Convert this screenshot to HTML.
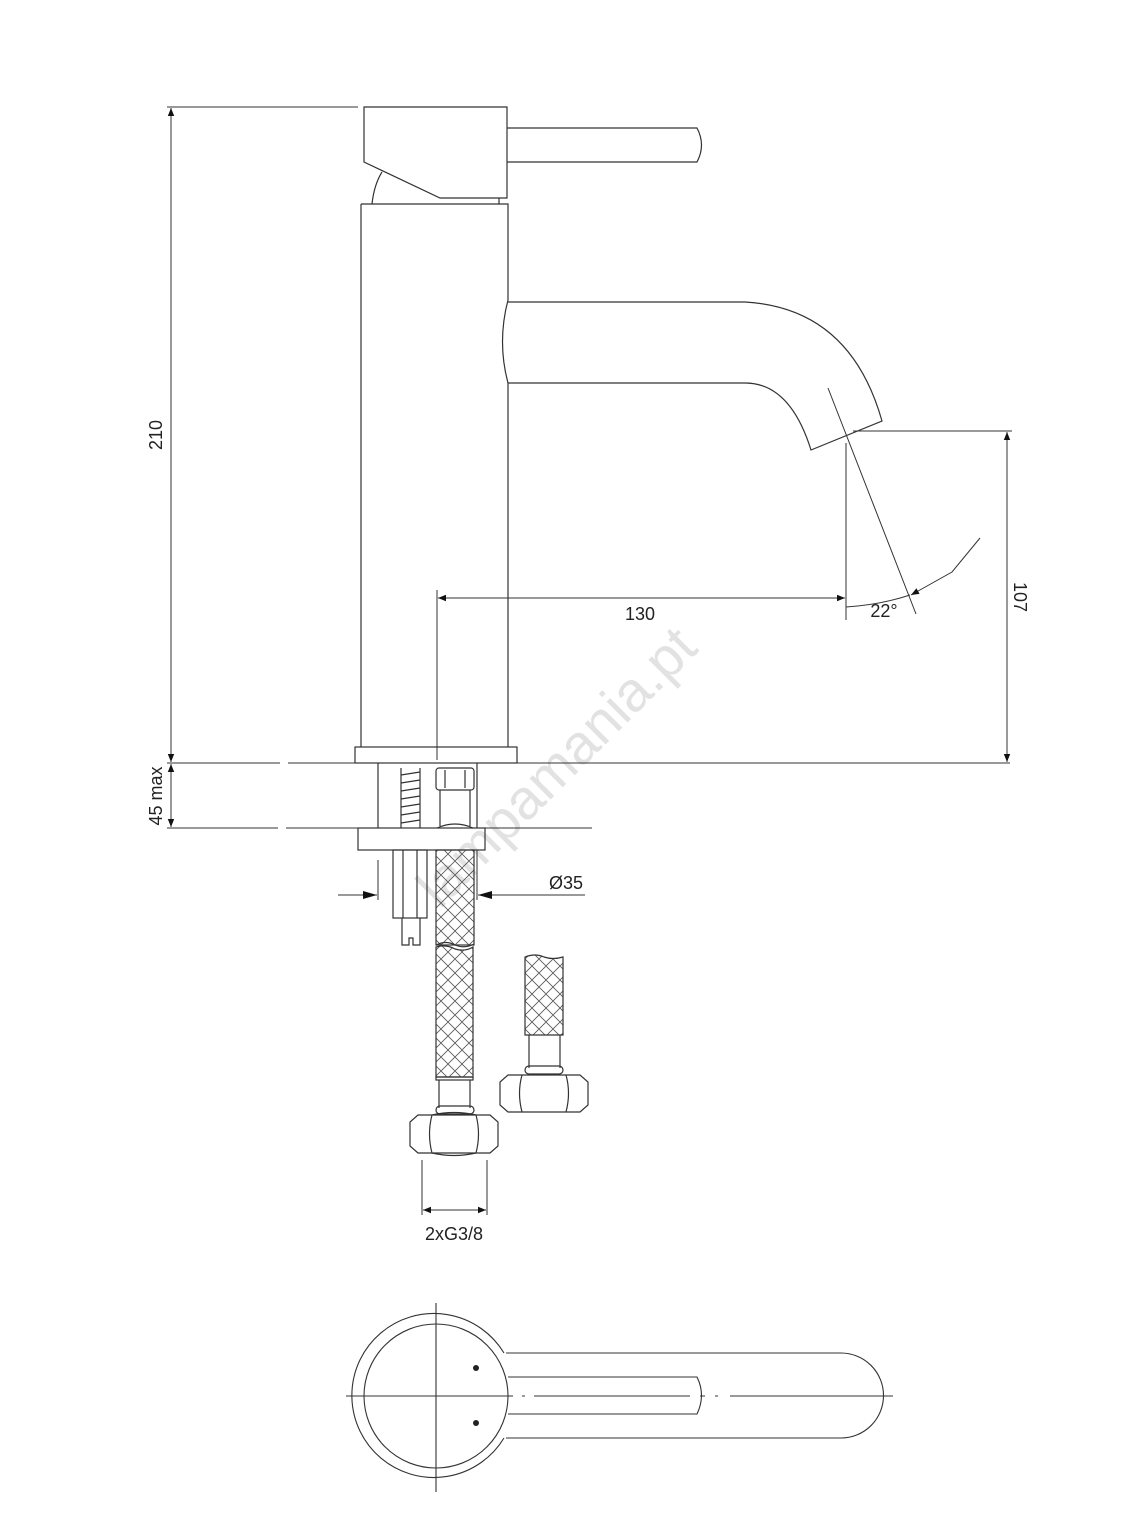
<!DOCTYPE html>
<html><head><meta charset="utf-8"><style>
html,body{margin:0;padding:0;background:#fff}
svg{display:block}
text{font-family:"Liberation Sans",sans-serif;fill:#222}
</style></head><body>
<svg width="1147" height="1527" viewBox="0 0 1147 1527" xmlns="http://www.w3.org/2000/svg">
<defs>
<marker id="a" viewBox="0 0 10 10" refX="10" refY="5" markerWidth="14" markerHeight="8" markerUnits="userSpaceOnUse" orient="auto-start-reverse"><path d="M0,1 L10,5 L0,9 z" fill="#111"/></marker>
<pattern id="x" width="14" height="14" patternUnits="userSpaceOnUse"><path d="M0,0 L14,14 M14,0 L0,14" stroke="#555" stroke-width="0.8"/></pattern>
</defs>
<text x="0" y="0" transform="translate(440,910) rotate(-45)" font-size="56" style="fill:#e2e2e2">lampamania.pt</text>
<g fill="none" stroke="#333" stroke-width="1.2">
<path d="M364,107 L507,107 L507,198 L440,198 L364,162 Z"/>
<path d="M507,128 L697,128 Q706,145 697,162 L507,162"/>
<path d="M372,204 Q374,185 382,172"/>
<line x1="499" y1="198" x2="499" y2="204"/>
<path d="M361,204 L508,204 L508,300 Q497,342 508,383 L508,747 M361,204 L361,747"/>
<path d="M508,302 L745,302 Q850,308 882,421 L811,450 Q790,383 745,383 L508,383"/>
<rect x="355" y="747" width="162" height="16"/>
<line x1="378" y1="763" x2="378" y2="828"/><line x1="477" y1="763" x2="477" y2="828"/>
<path d="M401,768 L401,828 M420,768 L420,828"/>
<path d="M401,775 L420,772 M401,783 L420,780 M401,791 L420,788 M401,799 L420,796 M401,807 L420,804 M401,815 L420,812 M401,823 L420,820"/>
<rect x="436" y="768" width="38" height="22" rx="3"/>
<line x1="445" y1="770" x2="445" y2="788"/><line x1="465" y1="770" x2="465" y2="788"/>
<path d="M440,790 L440,826 M470,790 L470,826 M437,828 Q455,820 473,828"/>
<rect x="358" y="828" width="127" height="22"/>
<rect x="393" y="850" width="34" height="68"/>
<line x1="403" y1="850" x2="403" y2="918"/><line x1="417" y1="850" x2="417" y2="918"/>
<path d="M402,918 L402,945 L409,945 L409,938 L413,938 L413,945 L420,945 L420,918"/>
<rect x="436" y="850" width="38" height="95" fill="url(#x)"/>
<path d="M436,945 Q446,940 455,945 Q465,949 474,944"/>
<path d="M436,947 Q446,944 455,949 Q465,952 473,947 L473,1077 L436,1077 Z" fill="url(#x)"/>
<rect x="436" y="1077" width="37" height="3"/>
<path d="M439,1080 L439,1108 M470,1080 L470,1108"/>
<rect x="436" y="1106" width="38" height="8" rx="4"/>
<path d="M418,1115 L490,1115 L498,1122 L498,1146 L490,1153 L418,1153 L410,1146 L410,1122 Z"/>
<path d="M432,1115 Q427,1134 432,1153 M476,1115 Q481,1134 476,1153 M432,1115 Q454,1110 476,1115 M432,1153 Q454,1158 476,1153"/>
<path d="M525,957 Q535,953 544,957 Q553,960 563,957 L563,1035 L525,1035 Z" fill="url(#x)"/>
<path d="M529,1035 L529,1068 M560,1035 L560,1068"/>
<rect x="525" y="1066" width="38" height="8" rx="4"/>
<path d="M508,1075 L580,1075 L588,1082 L588,1105 L580,1112 L508,1112 L500,1105 L500,1082 Z"/>
<path d="M522,1075 Q517,1093 522,1112 M566,1075 Q571,1093 566,1112"/>
</g>
<g fill="none" stroke="#333" stroke-width="1">
<line x1="167" y1="107" x2="358" y2="107"/>
<line x1="171" y1="108" x2="171" y2="762" marker-start="url(#a)" marker-end="url(#a)"/>
<line x1="167" y1="763" x2="280" y2="763"/><line x1="288" y1="763" x2="1010" y2="763"/>
<line x1="167" y1="828" x2="278" y2="828"/><line x1="286" y1="828" x2="592" y2="828"/>
<line x1="171" y1="764" x2="171" y2="827" marker-start="url(#a)" marker-end="url(#a)"/>
<line x1="437" y1="590" x2="437" y2="760"/>
<line x1="438" y1="598" x2="845" y2="598" marker-start="url(#a)" marker-end="url(#a)"/>
<line x1="846" y1="443" x2="846" y2="620"/>
<line x1="828" y1="388" x2="916" y2="614"/>
<line x1="853" y1="431" x2="1012" y2="431"/>
<line x1="1007" y1="432" x2="1007" y2="762" marker-start="url(#a)" marker-end="url(#a)"/>
<path d="M846,607 Q880,605 910,595" />
<path d="M980,538 L952,572 L911,595" marker-end="url(#a)"/>
<line x1="338" y1="895" x2="377" y2="895"/>
<line x1="378" y1="860" x2="378" y2="900"/>
<line x1="585" y1="895" x2="478" y2="895"/>
<line x1="477" y1="850" x2="477" y2="900"/>
<line x1="422" y1="1160" x2="422" y2="1215"/><line x1="487" y1="1160" x2="487" y2="1215"/>
<line x1="423" y1="1210" x2="486" y2="1210" marker-start="url(#a)" marker-end="url(#a)"/>
</g>
<path d="M377,895 L363,891 L363,899 Z M478,895 L492,891 L492,899 Z" fill="#111"/>
<text x="640" y="620" font-size="18" text-anchor="middle">130</text>
<text x="884" y="617" font-size="18" text-anchor="middle">22°</text>
<text x="0" y="0" font-size="18" text-anchor="middle" transform="translate(1014,597) rotate(90)">107</text>
<text x="0" y="0" font-size="18" text-anchor="middle" transform="translate(162,435) rotate(-90)">210</text>
<text x="0" y="0" font-size="18" text-anchor="middle" transform="translate(162,796) rotate(-90)">45 max</text>
<text x="566" y="889" font-size="18" text-anchor="middle">Ø35</text>
<text x="454" y="1240" font-size="18" text-anchor="middle">2xG3/8</text>
<g fill="none" stroke="#333" stroke-width="1.1">
<path d="M504,1353 A82,82 0 1 0 504,1438"/>
<circle cx="436" cy="1396" r="72"/>
<path d="M506,1353 L841,1353 A42,42 0 0 1 841,1438 L506,1438"/>
<path d="M508,1377 L697,1377 Q706,1395 697,1414 L508,1414"/>
<line x1="436" y1="1303" x2="436" y2="1492"/>
<line x1="346" y1="1396" x2="510" y2="1396"/>
<path d="M510,1396 L513,1396 M522,1396 L525,1396 M534,1396 L690,1396 M700,1396 L705,1396 M715,1396 L718,1396 M730,1396 L893,1396"/>
</g>
<circle cx="476" cy="1368" r="3" fill="#222"/>
<circle cx="476" cy="1423" r="3" fill="#222"/>
</svg>
</body></html>
